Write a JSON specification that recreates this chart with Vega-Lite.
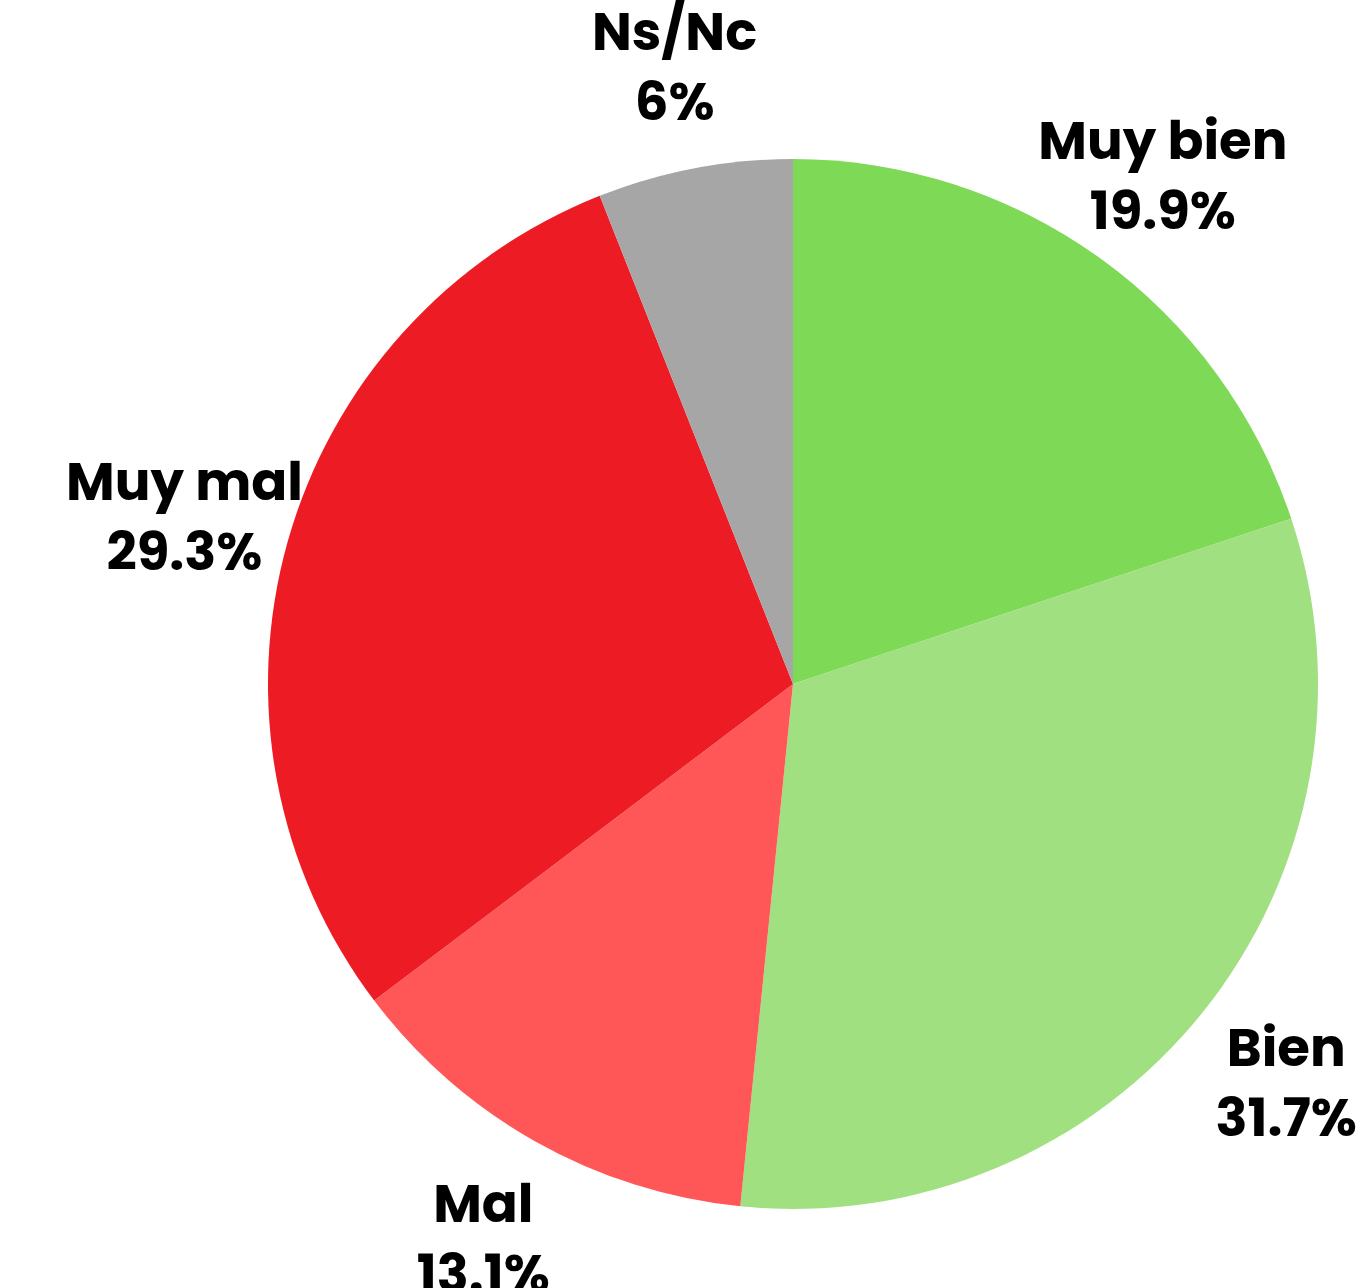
{
  "$schema": "https://vega.github.io/schema/vega-lite/v6.json",
  "width": 1050,
  "height": 1050,
  "autosize": {"type": "none"},
  "padding": {"left": 268, "top": 159, "right": 51, "bottom": 79},
  "background": "white",
  "view": {"stroke": null},
  "data": {
    "values": [
      {"categoria": "Muy bien", "valor": 19.9, "orden": 1},
      {"categoria": "Bien", "valor": 31.7, "orden": 2},
      {"categoria": "Mal", "valor": 13.1, "orden": 3},
      {"categoria": "Muy mal", "valor": 29.3, "orden": 4},
      {"categoria": "Ns/Nc", "valor": 6, "orden": 5}
    ]
  },
  "transform": [
    {"calculate": "datum.categoria + '\\n' + datum.valor + '%'", "as": "etiqueta"}
  ],
  "encoding": {
    "theta": {"field": "valor", "type": "quantitative", "stack": true},
    "order": {"field": "orden", "type": "quantitative"},
    "color": {
      "field": "categoria",
      "type": "nominal",
      "scale": {
        "domain": ["Muy bien", "Bien", "Mal", "Muy mal", "Ns/Nc"],
        "range": ["#7ED957", "#A0E080", "#FF5757", "#ED1C24", "#A6A6A6"]
      },
      "legend": null
    }
  },
  "layer": [
    {"mark": {"type": "arc", "outerRadius": 525, "stroke": null}},
    {
      "mark": {
        "type": "text",
        "radius": 632,
        "dy": -29,
        "font": "Poppins, Inter, sans-serif",
        "fontWeight": "bold",
        "fontSize": 53,
        "lineHeight": 70,
        "lineBreak": "\n",
        "align": "center",
        "baseline": "middle",
        "color": "black"
      },
      "encoding": {
        "text": {"field": "etiqueta", "type": "nominal"},
        "color": {"value": "black"}
      }
    }
  ]
}
